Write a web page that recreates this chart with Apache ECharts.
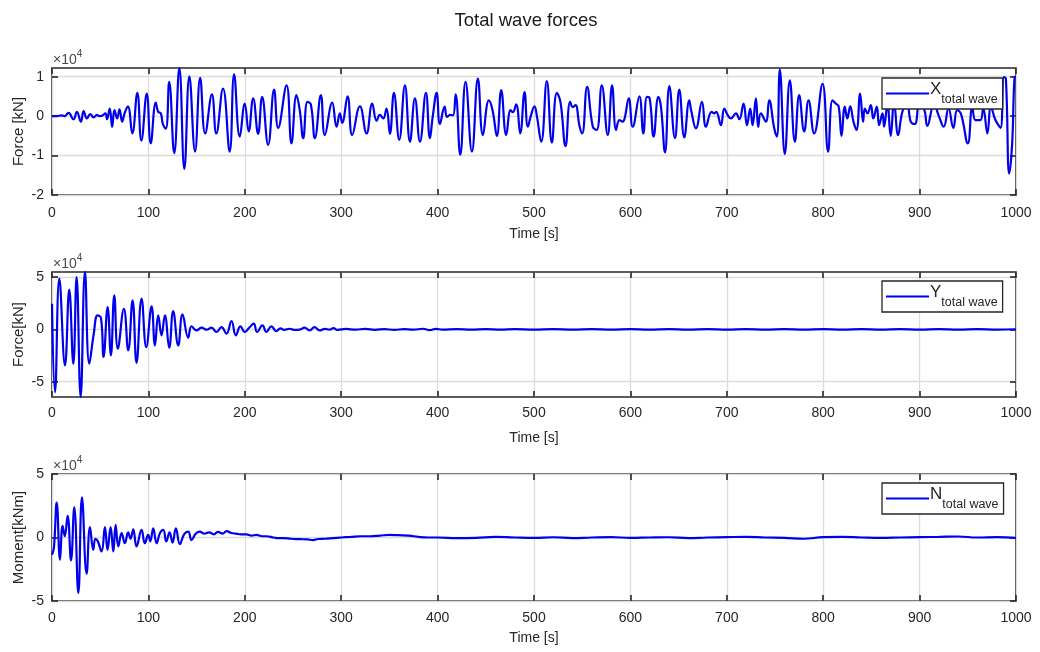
<!DOCTYPE html>
<html>
<head>
<meta charset="utf-8">
<script src="https://cdn.jsdelivr.net/npm/echarts@6/dist/echarts.min.js"></script>
<style>
html,body{margin:0;padding:0;background:#ffffff;}
#chart{width:1040px;height:652px;}
</style>
</head>
<body>
<div id="chart"></div>
<script>
// Surge force X [kN]
const timeX = [0,5,10,13,17.1,22.3,25.8,30,32.8,36.2,39.7,43.2,46.7,49,51.9,55.4,57.1,59.9,62.4,64.8,67.6,70,72.8,75.3,78.7,83.3,88.5,92.7,98.3,102.4,107.7,110.1,112.9,115,118.1,121.6,126.8,132.1,137.3,142.5,148.4,153.7,158.9,165.9,170.4,177.4,184.3,188.9,194.8,200,204,208.7,213.8,218,224.2,230.4,234.6,243.3,248.4,253.6,257,260.6,265,268.5,272.7,278.9,283,290.7,295.2,298.6,301,306.6,311.4,319.4,326.3,332.2,336.7,340.1,343.6,347,350.5,354.7,360.2,366.1,371.3,376.5,381.7,387.9,392,395,399,402.4,407.3,409.7,413,416,418.7,423.5,429,435.6,441.8,447,453.2,457,461.5,466,471.2,475.7,478,481.5,485.7,490.2,493.6,497,500.5,503,507.5,513.3,518.5,523.7,527.5,532.7,537.5,540.3,543,547.2,550,555.1,561,565,570.3,576.5,581,585.2,588.6,592,594,598.3,602.4,609.3,613.4,617.2,620,624.1,629,631.7,635.9,640.4,646.2,650.7,655.9,661.1,663,668,674.2,678.4,684.2,687,689,693.9,697.4,700.8,704.3,709.5,713,717.4,720.9,724.3,726.7,730.2,732.6,735.3,740.5,744,749.2,752,755,760.2,765.4,770.6,775.1,780.3,784.8,790.6,799.3,805.1,809.6,813,816,819,822.4,825,828,831.4,834.5,838.3,841.4,843.2,846,849.4,852,855.6,858,861.5,863.2,866.6,870,873.5,877.7,882,887,890.8,895,900,905,908,915,920,925,930,935,939,943,950,954.7,958,963,966,970.3,974,978,981,984,987.5,989.5,993,996,998.6,1000];
const forceX = [0,0,200,0,800,-800,1100,-1400,1300,-600,500,-300,300,0,100,700,-800,1900,-2700,1500,-600,1700,-1400,700,2500,-4400,5900,-6200,5700,-6900,3400,1100,700,-2000,-3200,8700,-9400,12200,-13400,10100,-9000,9700,-4400,5500,-4400,7000,-9000,10600,-5200,3200,-3900,4500,-4500,4900,-7300,6700,-3000,7800,-6900,5300,1500,-5600,3600,3000,-5600,5300,-4800,3400,-2700,700,-1700,5000,-4800,2500,-4400,3200,-1200,300,-600,1900,-4500,5900,-6000,7800,-6500,4500,-6500,5900,-5600,0,5900,-2000,2400,-200,300,200,5500,-9800,8700,-9000,9500,-4800,4000,1500,-5000,6600,-4800,1500,1000,3000,-4400,6100,-2700,300,2500,0,-6500,8900,-6700,5900,3500,-7600,3600,2300,2800,-2500,-4400,7400,-2700,-3500,7800,-4800,7800,-3500,-1000,-1400,-600,4500,-2700,5000,-4400,4900,4500,-5200,4900,2400,-9200,7600,-5600,6700,-5400,4000,1500,-3100,3600,-2700,1100,700,1100,-2300,1900,300,-600,700,-800,3200,-2300,1900,-2300,4500,-2700,700,-1400,4000,-3100,-5200,11800,-9600,9100,-6500,5300,-3900,4000,-4400,8200,-9000,4000,3200,2500,-5000,2400,-600,2500,-1400,-3500,5700,-1400,1900,700,2800,-600,2400,-2300,700,-2700,3000,-5000,3500,-4800,1000,3500,-1400,-2000,3500,1500,-2500,3000,0,-2700,2000,-3000,1500,500,-6900,2400,-1000,-1000,2000,-4400,2400,-600,-2000,-3000,9900,9500,-14600,-7000,9900,10000];

// Sway force Y [kN]
const timeY = [0,3.1,7.6,13.5,17.9,22.1,25.5,29.7,34.2,38.7,43.2,47.3,50.8,53.5,57.7,61.1,64.6,68.3,74.6,79.1,83.6,87.7,92.9,97.8,103.3,106.8,110.2,113.6,117.1,121.6,125.7,130.9,135.4,141.3,144.7,149.9,155,160.3,165.5,170.6,175.8,181,186.2,190.7,195.5,200,205,209.3,212.7,218.3,222.4,227.6,232.7,237,241,246.5,251,256.8,262,267.2,272.4,277.6,283,288,292,296,305,315,325,335,345,355,365,375,385,392,398,405,420,435,450,465,480,500,520,540,560,580,600,620,640,660,680,700,720,740,760,780,800,820,840,860,880,900,920,940,960,980,1000];
const forceY = [24500,-60000,48400,-34400,37900,-32800,50000,-64600,54800,-32800,-5000,13400,11000,-26400,21300,-24800,32500,-18500,19700,-20000,27700,-32000,29300,-17000,22000,-15300,13400,-5700,13400,-17500,17500,-15300,14300,-8000,3000,-1000,1600,-300,1600,-2500,2200,-4000,8000,-5700,2900,-2500,2000,5400,-2500,3800,-2500,2900,-1600,1000,-500,600,-500,-300,1600,-1000,2200,-1000,500,-300,1200,-500,400,-300,500,-400,300,-500,200,-300,600,-700,500,-300,300,-200,300,-300,200,-200,300,-200,200,-300,200,-200,300,-200,200,-300,200,-200,300,-200,200,-300,200,-200,300,-200,200,-300,200,-200,100];

// Yaw moment N [kNm]
const timeN = [0,2,4.9,8.3,11,13.2,16.2,19.7,23.1,27.3,31.1,35.9,39.4,42.8,45,47.5,51.4,54.9,57.6,60.8,63.6,66,68.8,72.2,75.6,79,81.5,84.3,87.7,92.9,96.3,99.8,102,105,108.5,112,115.4,118.5,122,125,128.5,132.6,137,141.3,144.7,149,153.3,158,163,168,172,177,181,186,191,196,201.7,207,212,218,222.4,230,235,240,248,257,265,270.9,276,283,291.5,300,310,320,330,340,350,360,370,380,390,400,420,440,460,480,500,520,540,560,580,600,620,640,660,680,700,720,740,760,780,800,820,840,860,880,900,920,940,960,980,1000];
const momentN = [-13600,-8000,27500,-17500,9200,1000,17000,-18000,23800,-43700,31700,-28500,8100,-9700,-1000,-3000,-11000,8100,-9700,8100,-11000,10000,-7000,3500,-4500,4000,-1000,6500,-7000,6000,-4500,2000,-3000,7300,-4500,3500,6000,-3000,4000,-4000,7300,-5200,2500,4700,-2000,3000,4700,3000,4000,2500,4500,3000,5000,3500,3000,2500,2500,1500,2000,1000,1000,0,-500,-500,-1000,-1300,-1500,-2000,-1200,-1000,-500,0,500,1000,1000,1500,2000,1800,1500,500,0,0,-500,-300,500,0,-300,200,-500,0,300,-300,0,200,-500,0,300,500,0,-300,-1000,300,500,0,-300,0,300,500,800,0,300,-300];

// Axis ticks and text
const timeTicks = [0,100,200,300,400,500,600,700,800,900,1000];
const panelNames = ['Force [kN]', 'Force[kN]', 'Moment[kNm]'];
const legendLetters = ['X', 'Y', 'N'];
const yTicks = [[-20000,-10000,0,10000],[-50000,0,50000],[-50000,0,50000]];
const yRanges = [[-20000,12200],[-64600,54800],[-50000,50000]];

const pair = (t, v) => t.map((x, i) => [x, v[i]]);
const seriesData = [pair(timeX, forceX), pair(timeY, forceY), pair(timeN, momentN)];

const FONT = 'Liberation Sans, Arial, Helvetica, sans-serif';
const INK = '#262626';
const GRIDLINE = '#dcdcdc';
const BLUE = '#0000ee';

const grids = [
  {top: 68, height: 127, labelMargin: 11, nameGap: 32},
  {top: 272, height: 125, labelMargin: 9, nameGap: 34},
  {top: 474, height: 127, labelMargin: 10, nameGap: 30}
];

const option = {
  animation: false,
  backgroundColor: '#ffffff',
  grid: grids.map(g => ({
    left: 52, right: 24, top: g.top, height: g.height,
    outerBoundsMode: 'none', containLabel: false,
    show: true, borderColor: INK, borderWidth: 1.6, backgroundColor: 'transparent'
  })),
  xAxis: [],
  yAxis: [],
  legend: [],
  series: [],
  graphic: []
};

grids.forEach((g, i) => {
  const tickStyle = {inside: true, length: 6, lineStyle: {color: INK, width: 1.6}};
  option.xAxis.push({
    gridIndex: i, type: 'value', position: 'bottom', min: 0, max: 1000,
    axisLabel: {customValues: timeTicks, margin: g.labelMargin, color: INK, fontSize: 14, fontFamily: FONT,
      formatter: v => String(v)},
    axisTick: Object.assign({customValues: timeTicks}, tickStyle),
    axisLine: {show: false, onZero: false},
    splitLine: {show: true, lineStyle: {color: GRIDLINE, width: 1.3}},
    name: 'Time [s]', nameLocation: 'middle', nameGap: g.nameGap, nameMoveOverlap: false,
    nameTextStyle: {color: INK, fontSize: 14, fontFamily: FONT}
  });
  option.xAxis.push({
    gridIndex: i, type: 'value', position: 'top', min: 0, max: 1000,
    axisLabel: {show: false},
    axisTick: Object.assign({customValues: timeTicks}, tickStyle),
    axisLine: {show: false, onZero: false}, splitLine: {show: false}
  });
  option.yAxis.push({
    gridIndex: i, type: 'value', position: 'left', min: yRanges[i][0], max: yRanges[i][1],
    axisLabel: {customValues: yTicks[i], margin: 8, color: INK, fontSize: 14, fontFamily: FONT,
      formatter: v => String(Math.round(v / 10000))},
    axisTick: Object.assign({customValues: yTicks[i]}, tickStyle),
    axisLine: {show: false, onZero: false},
    splitLine: {show: true, lineStyle: {color: GRIDLINE, width: 1.3}},
    name: panelNames[i], nameLocation: 'middle', nameGap: 26, nameMoveOverlap: false,
    nameTextStyle: {color: INK, fontSize: 15, fontFamily: FONT}
  });
  option.yAxis.push({
    gridIndex: i, type: 'value', position: 'right', min: yRanges[i][0], max: yRanges[i][1],
    axisLabel: {show: false},
    axisTick: Object.assign({customValues: yTicks[i]}, tickStyle),
    axisLine: {show: false, onZero: false}, splitLine: {show: false}
  });
  option.series.push({
    name: legendLetters[i], type: 'line',
    xAxisIndex: 2 * i, yAxisIndex: 2 * i,
    data: seriesData[i],
    showSymbol: false, symbol: 'none', smooth: 0.45,
    lineStyle: {color: BLUE, width: 2.2},
    itemStyle: {color: BLUE}
  });
  option.legend.push({
    data: [legendLetters[i]],
    left: 882, top: g.top + (i === 0 ? 10 : 9),
    orient: 'horizontal',
    backgroundColor: '#ffffff', borderColor: INK, borderWidth: 1.3,
    padding: [3, 5, 3, 4],
    icon: 'rect', itemWidth: 43, itemHeight: 2, itemGap: 0,
    formatter: name => '{m|' + name + '}{s|total wave}',
    textStyle: {
      color: INK, fontFamily: FONT, padding: [0, 0, 0, -4],
      rich: {
        m: {fontSize: 17, fontFamily: FONT, color: INK, verticalAlign: 'top', lineHeight: 25},
        s: {fontSize: 12.5, fontFamily: FONT, color: INK, verticalAlign: 'bottom', lineHeight: 25}
      }
    }
  });
  option.graphic.push({
    type: 'text', left: 53, top: g.top - 19, z: 10,
    style: {
      text: '{a|\u00d710}{b|4}',
      rich: {
        a: {fontSize: 14, fontFamily: FONT, fill: '#4a4a4a', verticalAlign: 'bottom', lineHeight: 18},
        b: {fontSize: 10, fontFamily: FONT, fill: '#4a4a4a', verticalAlign: 'top', lineHeight: 18}
      }
    }
  });
});

option.graphic.push({
  type: 'text', x: 526, y: 21, z: 10,
  style: {text: 'Total wave forces', fontSize: 18.5, fontFamily: FONT, fill: '#1a1a1a',
    textAlign: 'center', textVerticalAlign: 'middle'}
});

const chart = echarts.init(document.getElementById('chart'), null, {renderer: 'canvas'});
chart.setOption(option);
</script>
</body>
</html>
